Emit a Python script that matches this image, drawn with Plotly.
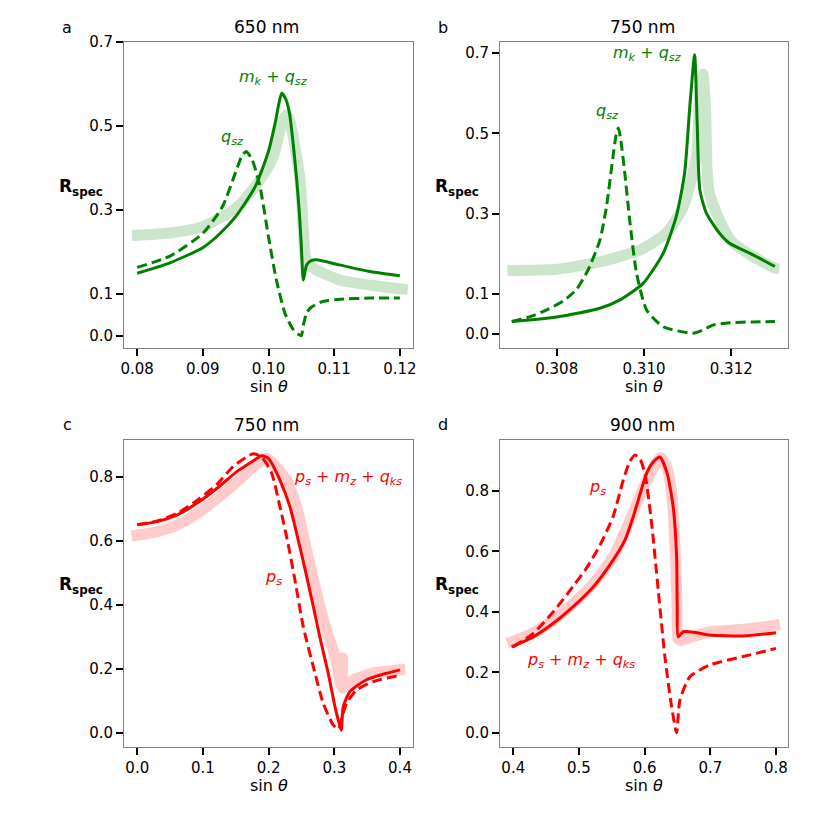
import plotly.graph_objects as go

# panel a: 650 nm, green
a_band_x = [0.0792, 0.0850, 0.0900, 0.0950, 0.0975, 0.1000, 0.1010, 0.1020, 0.1027, 0.1032, 0.1040, 0.1048, 0.1053, 0.1056, 0.1062, 0.1073, 0.1108, 0.1154, 0.1200, 0.1212]
a_band_y = [0.239, 0.245, 0.260, 0.304, 0.346, 0.403, 0.440, 0.505, 0.527, 0.515, 0.451, 0.371, 0.252, 0.190, 0.168, 0.157, 0.133, 0.121, 0.112, 0.110]
a_full_x = [0.0800, 0.0850, 0.0900, 0.0925, 0.0950, 0.0980, 0.1000, 0.1010, 0.1016, 0.1020, 0.1026, 0.1032, 0.1038, 0.1043, 0.1047, 0.1050, 0.1053, 0.1058, 0.1065, 0.1073, 0.1108, 0.1154, 0.1200]
a_full_y = [0.149, 0.174, 0.210, 0.242, 0.284, 0.356, 0.440, 0.506, 0.555, 0.578, 0.565, 0.530, 0.451, 0.371, 0.292, 0.213, 0.133, 0.169, 0.179, 0.181, 0.169, 0.153, 0.143]
a_part_x = [0.0800, 0.0850, 0.0900, 0.0930, 0.0950, 0.0960, 0.0966, 0.0975, 0.0987, 0.1000, 0.1012, 0.1025, 0.1038, 0.1046, 0.1050, 0.1053, 0.1058, 0.1065, 0.1083, 0.1110, 0.1154, 0.1200]
a_part_y = [0.163, 0.190, 0.244, 0.308, 0.390, 0.430, 0.439, 0.420, 0.356, 0.236, 0.133, 0.054, 0.014, 0.003, 0.000, 0.025, 0.054, 0.068, 0.082, 0.087, 0.090, 0.090]

# panel b: 750 nm, green
b_band_x = [0.30687, 0.3080, 0.3090, 0.3099, 0.31051, 0.3109, 0.3112, 0.31128, 0.31135, 0.31141, 0.31145, 0.3115, 0.31173, 0.3120, 0.3125, 0.3130, 0.3131]
b_band_y = [0.158, 0.161, 0.180, 0.209, 0.251, 0.317, 0.442, 0.600, 0.648, 0.560, 0.400, 0.350, 0.284, 0.232, 0.193, 0.164, 0.162]
b_full_x = [0.30697, 0.3075, 0.3080, 0.3085, 0.30899, 0.30945, 0.30998, 0.31044, 0.31074, 0.31093, 0.31105, 0.31116, 0.31122, 0.31128, 0.31143, 0.31173, 0.31196, 0.3125, 0.3130]
b_full_y = [0.031, 0.036, 0.042, 0.052, 0.064, 0.085, 0.126, 0.201, 0.293, 0.400, 0.567, 0.696, 0.520, 0.359, 0.301, 0.251, 0.226, 0.197, 0.168]
b_part_x = [0.30697, 0.30739, 0.30777, 0.30815, 0.30846, 0.30872, 0.30899, 0.30914, 0.30929, 0.30936, 0.30941, 0.30946, 0.30956, 0.30968, 0.30983, 0.31006, 0.31044, 0.31112, 0.31135, 0.31158, 0.31196, 0.3125, 0.3130]
b_part_y = [0.031, 0.043, 0.060, 0.082, 0.112, 0.160, 0.234, 0.317, 0.442, 0.495, 0.513, 0.490, 0.400, 0.276, 0.151, 0.060, 0.018, 0.002, 0.010, 0.022, 0.028, 0.030, 0.031]

# panel c: 750 nm, red
c_band_x = [-0.0086, 0.0305, 0.061, 0.0913, 0.122, 0.152, 0.177, 0.197, 0.2274, 0.2426, 0.2578, 0.273, 0.288, 0.301, 0.310, 0.3118, 0.3124, 0.3132, 0.320, 0.329, 0.359, 0.400, 0.408]
c_band_y = [0.615, 0.629, 0.650, 0.686, 0.733, 0.785, 0.832, 0.858, 0.790, 0.707, 0.572, 0.437, 0.322, 0.240, 0.150, 0.235, 0.235, 0.140, 0.150, 0.166, 0.187, 0.197, 0.198]
c_full_x = [0.000, 0.0305, 0.061, 0.0913, 0.122, 0.152, 0.175, 0.1893, 0.200, 0.2172, 0.2324, 0.245, 0.2568, 0.268, 0.279, 0.2907, 0.301, 0.306, 0.3105, 0.3136, 0.3237, 0.349, 0.375, 0.400]
c_full_y = [0.650, 0.660, 0.681, 0.718, 0.765, 0.817, 0.848, 0.866, 0.857, 0.790, 0.707, 0.603, 0.499, 0.395, 0.290, 0.187, 0.082, 0.040, 0.008, 0.082, 0.129, 0.166, 0.184, 0.197]
c_part_x = [0.000, 0.0305, 0.061, 0.0913, 0.122, 0.146, 0.1766, 0.190, 0.2045, 0.2172, 0.2284, 0.240, 0.2527, 0.268, 0.283, 0.2983, 0.306, 0.312, 0.3187, 0.334, 0.359, 0.395, 0.400]
c_part_y = [0.650, 0.662, 0.686, 0.727, 0.778, 0.832, 0.872, 0.860, 0.812, 0.707, 0.603, 0.478, 0.332, 0.207, 0.093, 0.025, 0.012, 0.050, 0.093, 0.134, 0.160, 0.178, 0.180]

# panel d: 900 nm, red
d_band_x = [0.391, 0.4304, 0.461, 0.4913, 0.522, 0.552, 0.580, 0.600, 0.620, 0.625, 0.635, 0.642, 0.6475, 0.6495, 0.651, 0.656, 0.665, 0.680, 0.700, 0.750, 0.800, 0.806]
d_band_y = [0.295, 0.330, 0.373, 0.428, 0.494, 0.582, 0.714, 0.819, 0.900, 0.910, 0.870, 0.770, 0.550, 0.400, 0.310, 0.305, 0.312, 0.322, 0.334, 0.342, 0.356, 0.358]
d_full_x = [0.3975, 0.4304, 0.461, 0.4913, 0.522, 0.552, 0.570, 0.5826, 0.603, 0.613, 0.6233, 0.6344, 0.6435, 0.6487, 0.6496, 0.6511, 0.6588, 0.679, 0.699, 0.750, 0.800]
d_full_y = [0.284, 0.317, 0.362, 0.417, 0.483, 0.571, 0.637, 0.714, 0.857, 0.895, 0.912, 0.857, 0.747, 0.582, 0.417, 0.317, 0.334, 0.331, 0.323, 0.320, 0.331]
d_part_x = [0.400, 0.4304, 0.461, 0.4913, 0.5117, 0.532, 0.552, 0.5674, 0.577, 0.5852, 0.593, 0.6005, 0.6107, 0.6207, 0.6309, 0.6411, 0.6487, 0.6537, 0.6689, 0.700, 0.750, 0.800]
d_part_y = [0.284, 0.329, 0.400, 0.485, 0.545, 0.620, 0.715, 0.835, 0.895, 0.918, 0.905, 0.857, 0.692, 0.472, 0.251, 0.086, 0.000, 0.108, 0.185, 0.225, 0.252, 0.279]

titles = ["650 nm", "750 nm", "750 nm", "900 nm"]
letters = ["a", "b", "c", "d"]

green = "#008000"
green_light = "rgba(0,128,0,0.2)"
red = "#ff0000"
red_light = "rgba(255,0,0,0.2)"

W = 830
OFF = 8  # page margin of the html body
FONT = "DejaVu Sans"


def px(x):
    return (x - OFF) / W


def py(y):
    return 1 - (y - OFF) / W


fig = go.Figure()

panels = [
    (a_band_x, a_band_y, a_full_x, a_full_y, a_part_x, a_part_y, green, green_light),
    (b_band_x, b_band_y, b_full_x, b_full_y, b_part_x, b_part_y, green, green_light),
    (c_band_x, c_band_y, c_full_x, c_full_y, c_part_x, c_part_y, red, red_light),
    (d_band_x, d_band_y, d_full_x, d_full_y, d_part_x, d_part_y, red, red_light),
]

for i, (bx, by, fx, fy, qx, qy, col, light) in enumerate(panels):
    xa = "x" if i == 0 else "x%d" % (i + 1)
    ya = "y" if i == 0 else "y%d" % (i + 1)
    fig.add_trace(go.Scatter(x=bx, y=by, mode="lines", xaxis=xa, yaxis=ya,
                             line=dict(color=light, width=11, shape="spline", smoothing=0.6)))
    fig.add_trace(go.Scatter(x=fx, y=fy, mode="lines", xaxis=xa, yaxis=ya,
                             line=dict(color=col, width=3, shape="spline", smoothing=0.6)))
    fig.add_trace(go.Scatter(x=qx, y=qy, mode="lines", xaxis=xa, yaxis=ya,
                             line=dict(color=col, width=3, dash="10px,5px", shape="spline", smoothing=0.6)))

# axes: pixel boxes of each panel
boxes = [(124, 413, 42, 348), (500, 788, 42, 348), (124, 413, 440, 747), (500, 788, 440, 747)]
xranges = [[0.078, 0.122], [0.3067, 0.3133], [-0.0202, 0.4198], [0.3798, 0.8183]]
yranges = [[-0.029, 0.70], [-0.035, 0.7275], [-0.044, 0.915], [-0.047, 0.968]]
xticks = [[0.08, 0.09, 0.10, 0.11, 0.12], [0.308, 0.310, 0.312], [0.0, 0.1, 0.2, 0.3, 0.4], [0.4, 0.5, 0.6, 0.7, 0.8]]
xlabels = [["0.08", "0.09", "0.10", "0.11", "0.12"], ["0.308", "0.310", "0.312"],
           ["0.0", "0.1", "0.2", "0.3", "0.4"], ["0.4", "0.5", "0.6", "0.7", "0.8"]]
yticks = [[0.0, 0.1, 0.3, 0.5, 0.7], [0.0, 0.1, 0.3, 0.5, 0.7], [0.0, 0.2, 0.4, 0.6, 0.8], [0.0, 0.2, 0.4, 0.6, 0.8]]
ylabels = [["0.0", "0.1", "0.3", "0.5", "0.7"], ["0.0", "0.1", "0.3", "0.5", "0.7"],
           ["0.0", "0.2", "0.4", "0.6", "0.8"], ["0.0", "0.2", "0.4", "0.6", "0.8"]]

common = dict(showgrid=False, zeroline=False, showline=True, linecolor="#808080", linewidth=1,
              mirror=True, ticks="outside", ticklen=7, tickwidth=1.5, tickcolor="black",
              automargin=False, tickfont=dict(family=FONT, size=15, color="black"))

layout = {}
for i in range(4):
    x0, x1, y0, y1 = boxes[i]
    sx = "" if i == 0 else str(i + 1)
    layout["xaxis" + sx] = dict(common, domain=[px(x0), px(x1)], range=xranges[i],
                                anchor="y" + sx, tickvals=xticks[i], ticktext=xlabels[i])
    layout["yaxis" + sx] = dict(common, domain=[py(y1), py(y0)], range=yranges[i],
                                anchor="x" + sx, tickvals=yticks[i], ticktext=ylabels[i])


def note(txt, x, y, size, col="black"):
    return dict(text=txt, x=px(x), y=py(y), xref="paper", yref="paper", showarrow=False,
                xanchor="center", yanchor="middle", font=dict(family=FONT, size=size, color=col))


annotations = []
for i in range(4):
    x0, x1, y0, y1 = boxes[i]
    annotations.append(note(titles[i], (x0 + x1) / 2 - 2, y0 - 15, 17))
    annotations.append(note(letters[i], x0 - 57, y0 - 15, 16))
    annotations.append(note("<b>R<sub>spec</sub></b>", x0 - 43, y0 + 145, 17))
    annotations.append(note("sin <i>θ</i>", (x0 + x1) / 2, y1 + 38, 16))

mk = "<i>m</i><sub><i>k</i></sub> + <i>q</i><sub><i>sz</i></sub>"
qsz = "<i>q</i><sub><i>sz</i></sub>"
pfull = "<i>p</i><sub><i>s</i></sub> + <i>m</i><sub><i>z</i></sub> + <i>q</i><sub><i>ks</i></sub>"
ps = "<i>p</i><sub><i>s</i></sub>"
curve_labels = [(mk, 273, 78, green), (qsz, 232, 137, green), (mk, 647, 53, green), (qsz, 607, 112, green),
                (pfull, 348, 477, red), (ps, 273, 577, red), (ps, 597, 487, red), (pfull, 581, 660, red)]
for txt, lx, ly, col in curve_labels:
    annotations.append(note(txt, lx, ly, 16, col))

fig.update_layout(**layout)
fig.update_layout(width=830, height=830, margin=dict(l=0, r=0, t=0, b=0), showlegend=False,
                  paper_bgcolor="white", plot_bgcolor="white", annotations=annotations)

fig.write_html("out.html")
